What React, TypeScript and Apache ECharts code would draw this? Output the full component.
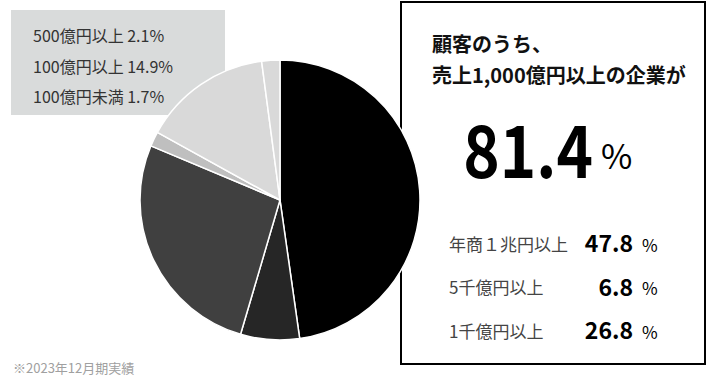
import React, { useEffect, useRef } from "react";
import * as echarts from "echarts";

const sliceNames = ["年商１兆円以上", "5千億円以上", "1千億円以上", "100億円未満", "100億円以上", "500億円以上"];
const sliceValues = [47.8, 6.8, 26.8, 1.7, 14.9, 2.1];
const sliceColors = ["#000000", "#262626", "#404040", "#bfbfbf", "#d9d9d9", "#d9d9d9"];

const legendNames = ["500億円以上", "100億円以上", "100億円未満"];
const legendValues = [2.1, 14.9, 1.7];

const boxTitle = ["顧客のうち、", "売上1,000億円以上の企業が"];
const headline = "81.4";
const boxNames = ["年商１兆円以上", "5千億円以上", "1千億円以上"];
const boxValues = ["47.8", "6.8", "26.8"];
const footnote = "※2023年12月期実績";

const FONT = "'Noto Sans CJK JP', 'Noto Sans', sans-serif";

export default function App() {
  const ref = useRef<HTMLDivElement>(null);
  useEffect(() => {
    if (!ref.current) return;
    const chart = echarts.init(ref.current, null, { renderer: "svg" });
    const graphics: any[] = [];
    graphics.push({
      type: "rect",
      z: 0,
      shape: { x: 11, y: 10, width: 214, height: 105 },
      style: { fill: "#d9dbdb" },
    });
    legendNames.forEach((n, i) => {
      graphics.push({
        type: "text",
        z: 1,
        x: 33,
        y: 35 + i * 30.5,
        style: {
          text: `${n} ${legendValues[i].toFixed(1)}%`,
          font: `16px ${FONT}`,
          fill: "#333333",
          verticalAlign: "middle",
        },
      });
    });
    graphics.push({
      type: "rect",
      z: 0,
      shape: { x: 401, y: 2, width: 304, height: 362 },
      style: { fill: "#ffffff", stroke: "#000000", lineWidth: 2 },
    });
    boxTitle.forEach((t, i) => {
      graphics.push({
        type: "text",
        z: 1,
        x: 432,
        y: 43 + i * 31,
        style: { text: t, font: `bold 20px ${FONT}`, fill: "#111111", verticalAlign: "middle" },
      });
    });
    graphics.push({
      type: "text",
      z: 1,
      x: 593,
      y: 146,
      scaleX: 0.86,
      originX: 0,
      originY: 0,
      style: { text: headline, font: `bold 72px ${FONT}`, fill: "#000000", align: "right", verticalAlign: "middle" },
    });
    graphics.push({
      type: "text",
      z: 1,
      x: 601,
      y: 154,
      style: { text: "%", font: `34px ${FONT}`, fill: "#000000", align: "left", verticalAlign: "middle" },
    });
    boxNames.forEach((n, i) => {
      const y = 243 + i * 43.5;
      graphics.push({
        type: "text",
        z: 1,
        x: 449,
        y,
        style: { text: n, font: `17px ${FONT}`, fill: "#444444", verticalAlign: "middle" },
      });
      graphics.push({
        type: "text",
        z: 1,
        x: 633,
        y: y - 1,
        style: { text: boxValues[i], font: `bold 23px ${FONT}`, fill: "#000000", align: "right", verticalAlign: "middle" },
      });
      graphics.push({
        type: "text",
        z: 1,
        x: 642,
        y: y + 1,
        style: { text: "%", font: `17px ${FONT}`, fill: "#000000", align: "left", verticalAlign: "middle" },
      });
    });
    graphics.push({
      type: "text",
      z: 1,
      x: 13,
      y: 367,
      style: { text: footnote, font: `13px ${FONT}`, fill: "#a0a0a0", verticalAlign: "middle" },
    });

    chart.setOption({
      animation: false,
      graphic: { elements: graphics },
      series: [
        {
          type: "pie",
          z: 5,
          center: [280, 200],
          radius: 140,
          startAngle: 90,
          clockwise: true,
          label: { show: false },
          labelLine: { show: false },
          emphasis: { disabled: true },
          itemStyle: { borderColor: "#ffffff", borderWidth: 1.5 },
          data: sliceNames.map((n, i) => ({
            name: n,
            value: sliceValues[i],
            itemStyle: { color: sliceColors[i] },
          })),
        },
      ],
    });
    return () => chart.dispose();
  }, []);
  return (
    <div
      ref={ref}
      style={{ position: "absolute", left: 0, top: 0, width: 708, height: 376, background: "#ffffff" }}
    />
  );
}
